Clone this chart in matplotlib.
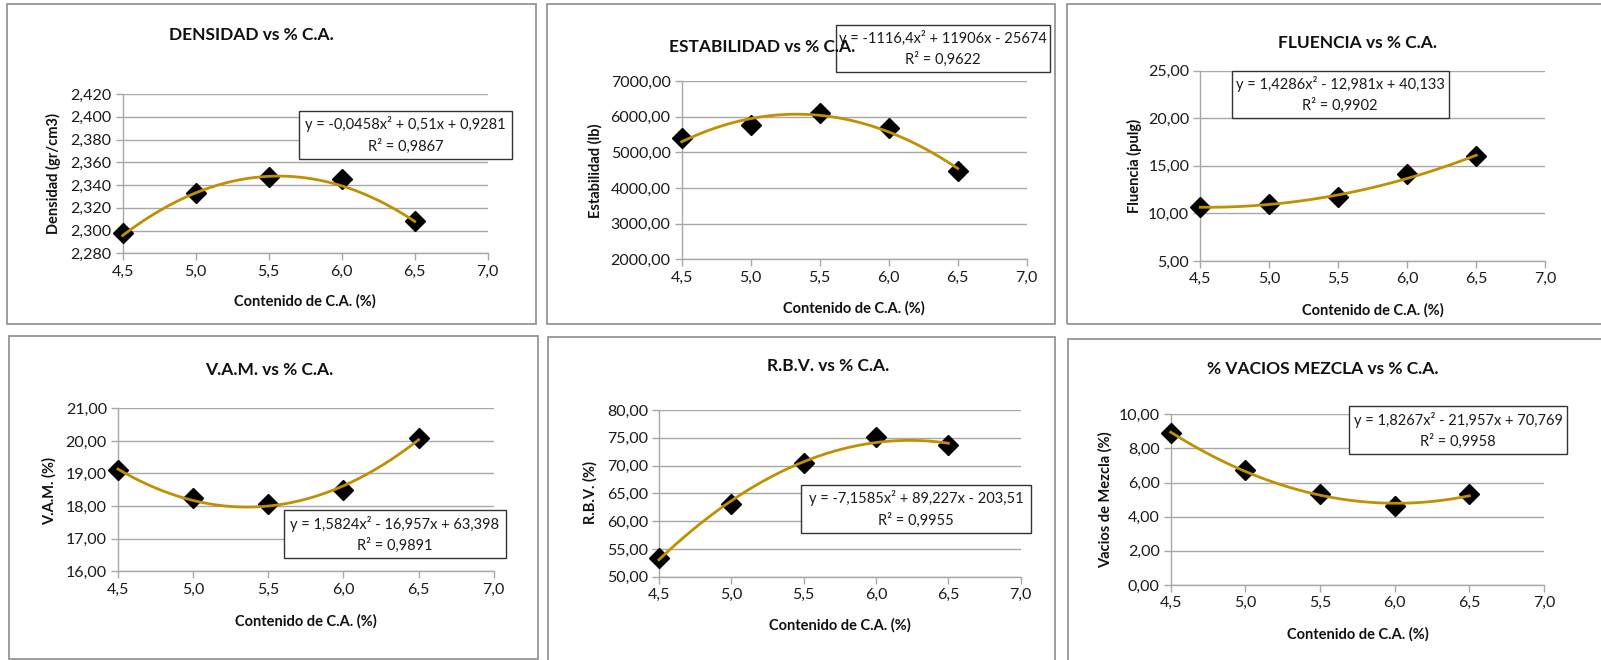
import numpy as np
import matplotlib
matplotlib.use('Agg')
import matplotlib.pyplot as plt
from matplotlib.patches import Rectangle
from matplotlib.ticker import FuncFormatter, MultipleLocator

plt.rcParams['font.family'] = ['Lato', 'DejaVu Sans']

W, H = 1601, 660

# datos
contenido_ca = [4.5, 5.0, 5.5, 6.0, 6.5]

densidad = [2.298, 2.333, 2.347, 2.345, 2.308]
estabilidad = [5393, 5757, 6093, 5673, 4477]
fluencia = [10.71, 11.03, 11.76, 14.11, 16.07]
vam = [19.10, 18.24, 18.06, 18.49, 20.10]
rbv = [53.36, 63.14, 70.52, 75.14, 73.64]
vacios = [8.93, 6.74, 5.33, 4.65, 5.33]

# coeficientes de la linea de tendencia (polinomio grado 2)
coef_densidad = [-0.0458, 0.51, 0.9281]
coef_estabilidad = [-1116.4, 11906, -25674]
coef_fluencia = [1.4286, -12.981, 40.133]
coef_vam = [1.5824, -16.957, 63.398]
coef_rbv = [-7.1585, 89.227, -203.51]
coef_vacios = [1.8267, -21.957, 70.769]

eq_densidad = 'y = -0,0458x² + 0,51x + 0,9281\nR² = 0,9867'
eq_estabilidad = 'y = -1116,4x² + 11906x - 25674\nR² = 0,9622'
eq_fluencia = 'y = 1,4286x² - 12,981x + 40,133\nR² = 0,9902'
eq_vam = 'y = 1,5824x² - 16,957x + 63,398\nR² = 0,9891'
eq_rbv = 'y = -7,1585x² + 89,227x - 203,51\nR² = 0,9955'
eq_vacios = 'y = 1,8267x² - 21,957x + 70,769\nR² = 0,9958'

GOLD = '#C09000'
GRID = '#A8A8A8'

# posiciones en px: caja del panel, area de ejes, caja de ecuacion, titulo, etiquetas
panels = [
    dict(title='DENSIDAD vs % C.A.', ylabel='Densidad (gr/cm3)', y=densidad,
         coef=coef_densidad, eq=eq_densidad, ylim=(2.28, 2.42), ystep=0.02, ydec=3,
         box=(7, 4, 536, 324), ax=(122.7, 94, 487.7, 253.3),
         eqbox=(299, 111, 512, 159), tpos=(251.7, 35), xlpos=(305, 301.7), ylpos=(53.3, 173)),
    dict(title='ESTABILIDAD vs % C.A.', ylabel='Estabilidad (lb)', y=estabilidad,
         coef=coef_estabilidad, eq=eq_estabilidad, ylim=(2000, 7000), ystep=1000, ydec=2,
         box=(547, 4, 1055, 324), ax=(681.7, 81, 1026.7, 259.3),
         eqbox=(835.7, 25, 1050, 72), tpos=(762, 47), xlpos=(853.5, 308), ylpos=(595, 170.8)),
    dict(title='FLUENCIA vs % C.A.', ylabel='Fluencia (pulg)', y=fluencia,
         coef=coef_fluencia, eq=eq_fluencia, ylim=(5, 25), ystep=5, ydec=2,
         box=(1067, 4, 1605, 324), ax=(1200.3, 70.7, 1545.3, 261),
         eqbox=(1231.7, 70.7, 1448.7, 118.3), tpos=(1357.7, 43), xlpos=(1372.8, 310), ylpos=(1134, 165.8)),
    dict(title='V.A.M. vs % C.A.', ylabel='V.A.M. (%)', y=vam,
         coef=coef_vam, eq=eq_vam, ylim=(16, 21), ystep=1, ydec=2,
         box=(9, 336, 538, 659), ax=(118, 408.3, 493.7, 571.3),
         eqbox=(283.7, 510.3, 506, 558), tpos=(269.3, 370), xlpos=(305.5, 621), ylpos=(49.3, 490.8)),
    dict(title='R.B.V. vs % C.A.', ylabel='R.B.V. (%)', y=rbv,
         coef=coef_rbv, eq=eq_rbv, ylim=(50, 80), ystep=5, ydec=2,
         box=(548, 337, 1055, 662), ax=(659, 410, 1020.7, 576.7),
         eqbox=(801, 485, 1031, 532.7), tpos=(827.8, 366), xlpos=(840, 625.7), ylpos=(590, 493)),
    dict(title='% VACIOS MEZCLA vs % C.A.', ylabel='Vacios de Mezcla (%)', y=vacios,
         coef=coef_vacios, eq=eq_vacios, ylim=(0, 10), ystep=2, ydec=2,
         box=(1068, 339, 1605, 662), ax=(1170.7, 414.3, 1544, 585),
         eqbox=(1349.3, 406, 1567, 454.3), tpos=(1322.5, 368.7), xlpos=(1357.8, 634), ylpos=(1105, 500)),
]


def fx(px):
    return px / W


def fy(py):
    return 1 - py / H


fig = plt.figure(figsize=(W / 100, H / 100), dpi=100)
fig.patch.set_facecolor('white')

xs = np.linspace(4.5, 6.5, 200)

for p in panels:
    x0, y0, x1, y1 = p['box']
    fig.add_artist(Rectangle((fx(x0), fy(y1)), fx(x1 - x0), (y1 - y0) / H,
                             transform=fig.transFigure, fill=False,
                             edgecolor='#8C8C8C', linewidth=1.2))

for p in panels:
    a0, b0, a1, b1 = p['ax']
    ax = fig.add_axes([fx(a0), fy(b1), fx(a1 - a0), (b1 - b0) / H])
    ax.set_xlim(4.5, 7.0)
    ax.set_ylim(*p['ylim'])
    ax.xaxis.set_major_locator(MultipleLocator(0.5))
    ax.yaxis.set_major_locator(MultipleLocator(p['ystep']))
    dec = p['ydec']
    ax.yaxis.set_major_formatter(FuncFormatter(
        lambda v, pos, d=dec: ('{:.%df}' % d).format(v).replace('.', ',')))
    ax.xaxis.set_major_formatter(FuncFormatter(
        lambda v, pos: '{:.1f}'.format(v).replace('.', ',')))
    for s in ['top', 'right']:
        ax.spines[s].set_visible(False)
    for s in ['left', 'bottom']:
        ax.spines[s].set_color(GRID)
        ax.spines[s].set_linewidth(1.0)
    ax.tick_params(axis='both', direction='out', length=5, width=1.0, color=GRID,
                   labelsize=11.5, labelcolor='#1a1a1a', pad=3)
    ax.grid(axis='y', color=GRID, linewidth=1.0)
    ax.set_axisbelow(True)
    ax.plot(contenido_ca, p['y'], linestyle='none', marker='D', markersize=10,
            color='black', zorder=3, clip_on=False)
    ax.plot(xs, np.polyval(p['coef'], xs), color=GOLD, linewidth=2.0, zorder=4, clip_on=False)

    # caja de la ecuacion
    e0, f0, e1, f1 = p['eqbox']
    fig.add_artist(Rectangle((fx(e0), fy(f1)), fx(e1 - e0), (f1 - f0) / H,
                             transform=fig.transFigure, facecolor='white',
                             edgecolor='#333333', linewidth=1.0, zorder=10))
    fig.text(fx((e0 + e1) / 2), fy((f0 + f1) / 2), p['eq'], ha='center', va='center',
             multialignment='center', fontsize=10.5, color='#1a1a1a', linespacing=1.5,
             zorder=11)

    fig.text(fx(p['tpos'][0]), fy(p['tpos'][1]), p['title'], ha='center', va='center',
             fontsize=12.5, fontweight='bold', color='#111111', zorder=12)
    fig.text(fx(p['xlpos'][0]), fy(p['xlpos'][1]), 'Contenido de C.A. (%)', ha='center',
             va='center', fontsize=10.5, fontweight='bold', color='#111111')
    fig.text(fx(p['ylpos'][0]), fy(p['ylpos'][1]), p['ylabel'], ha='center', va='center',
             rotation=90, fontsize=10.5, fontweight='bold', color='#111111')

plt.savefig('out.png', dpi=100)
